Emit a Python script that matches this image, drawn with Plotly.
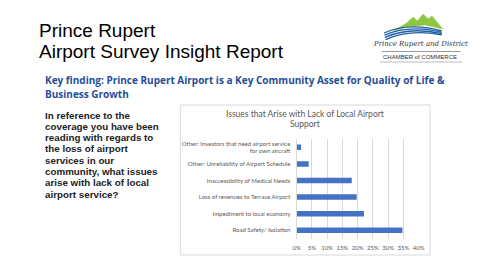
import plotly.graph_objects as go

W, H = 485, 258

categories = [
    "Other: Investors that need airport service<br>for own aircraft",
    "Other: Unreliability of Airport Schedule",
    "Inaccessibility of Medical Needs",
    "Loss of revenues to Terrace Airport",
    "Impediment to local economy",
    "Road Safety/ Isolation",
]
values = [0.015, 0.040, 0.181, 0.197, 0.221, 0.347]
tick_vals = [0.0, 0.05, 0.10, 0.15, 0.20, 0.25, 0.30, 0.35, 0.40]
tick_text = ["0%", "5%", "10%", "15%", "20%", "25%", "30%", "35%", "40%"]

title_lines = ["Prince Rupert", "Airport Survey Insight Report"]
key_lines = ["Key finding: Prince Rupert Airport is a Key Community Asset for Quality of Life &",
             "Business Growth"]
question_lines = ["In reference to the", "coverage you have been", "reading with regards to",
                  "the loss of airport", "services in our", "community, what issues",
                  "arise with lack of local", "airport service?"]
chart_title_lines = ["Issues that Arise with Lack of Local Airport", "Support"]


def px(x):
    return x / W


def py(y):
    return 1 - y / H


fig = go.Figure()
fig.add_trace(go.Bar(
    x=values, y=categories, orientation="h",
    marker=dict(color="#4472C4", line=dict(width=0)),
    width=0.33, hoverinfo="skip",
))

fig.update_layout(
    width=W, height=H,
    margin=dict(l=0, r=0, t=0, b=0),
    paper_bgcolor="white", plot_bgcolor="white",
    showlegend=False,
    xaxis=dict(
        domain=[px(298.7), px(423.3)], range=[0, 0.40],
        tickvals=tick_vals, ticktext=tick_text,
        tickfont=dict(family="Lato", size=6, color="#595959"),
        showgrid=True, gridcolor="#d9d9d9", gridwidth=1,
        zeroline=False, showline=False,
        ticks="outside", ticklen=3, tickcolor="rgba(0,0,0,0)", fixedrange=True,
    ),
    yaxis=dict(
        domain=[py(238.6), py(139)], autorange="reversed",
        tickfont=dict(family="Lato", size=6, color="#595959"),
        showgrid=False, zeroline=False,
        showline=True, linecolor="#d9d9d9", linewidth=1,
        ticks="outside", ticklen=4, tickcolor="rgba(0,0,0,0)",
    ),
)

shapes = []
# chart frame
shapes.append(dict(type="rect", xref="paper", yref="paper",
                   x0=px(180), x1=px(435), y0=py(255), y1=py(105),
                   line=dict(color="#d9d9d9", width=1), fillcolor="rgba(0,0,0,0)"))


def path(points):
    s = "M " + " L ".join(f"{px(x)},{py(y)}" for x, y in points) + " Z"
    return s


# logo: green mountains
mount = [(398, 31), (411, 23), (418, 17), (422, 21), (428, 14), (433, 19), (437, 16),
         (448, 29), (430, 25), (410, 27)]
shapes.append(dict(type="path", xref="paper", yref="paper", path=path(mount),
                   fillcolor="#8DC63F", line=dict(color="#8DC63F", width=0.5)))
# logo: blue swooshes
for i, off in enumerate([0, 2.2, 4.4, 6.6]):
    x0, y0 = 388 + i * 0.5, 33 + off
    cx, cy = 414, 22 + off
    x1, y1 = 447, 31 + off * 0.6
    shapes.append(dict(type="path", xref="paper", yref="paper",
                       path=f"M {px(x0)},{py(y0)} Q {px(cx)},{py(cy)} {px(x1)},{py(y1)}",
                       line=dict(color="#1F5FA6", width=1.3)))
# logo: lines around CHAMBER text
shapes.append(dict(type="line", xref="paper", yref="paper",
                   x0=px(386), x1=px(466), y0=py(51.5), y1=py(51.5),
                   line=dict(color="#555555", width=0.6)))
shapes.append(dict(type="line", xref="paper", yref="paper",
                   x0=px(384), x1=px(468), y0=py(62), y1=py(62),
                   line=dict(color="#aaaaaa", width=0.8)))

annotations = []


def text(t, x, y, size, color, family, xanchor="left", bold=False, style="normal"):
    if bold:
        t = f"<b>{t}</b>"
    annotations.append(dict(text=t, x=px(x), y=py(y), xref="paper", yref="paper",
                            xanchor=xanchor, yanchor="middle", showarrow=False,
                            font=dict(size=size, color=color, family=family, style=style)))


text(title_lines[0], 34, 30.5, 19, "#000000", "Liberation Sans")
text(title_lines[1], 34, 51, 19, "#000000", "Liberation Sans")
for i, t in enumerate(key_lines):
    text(t, 40, 80 + i * 14, 10, "#1F4E9A", "Open Sans", bold=True)
for i, t in enumerate(question_lines):
    text(t, 40, 115 + i * 11.3, 9.8, "#222222", "Liberation Sans", bold=True)
for i, t in enumerate(chart_title_lines):
    text(t, 307, 113.5 + i * 11, 8.5, "#595959", "Lato", xanchor="center")

text("Prince Rupert and District", 425, 44, 7, "#333333", "DejaVu Serif",
     xanchor="center", style="italic")
text("CHAMBER of COMMERCE", 425, 57, 6, "#333333", "Liberation Sans", xanchor="center")

fig.update_layout(shapes=shapes, annotations=annotations)
fig.write_html("out.html")
